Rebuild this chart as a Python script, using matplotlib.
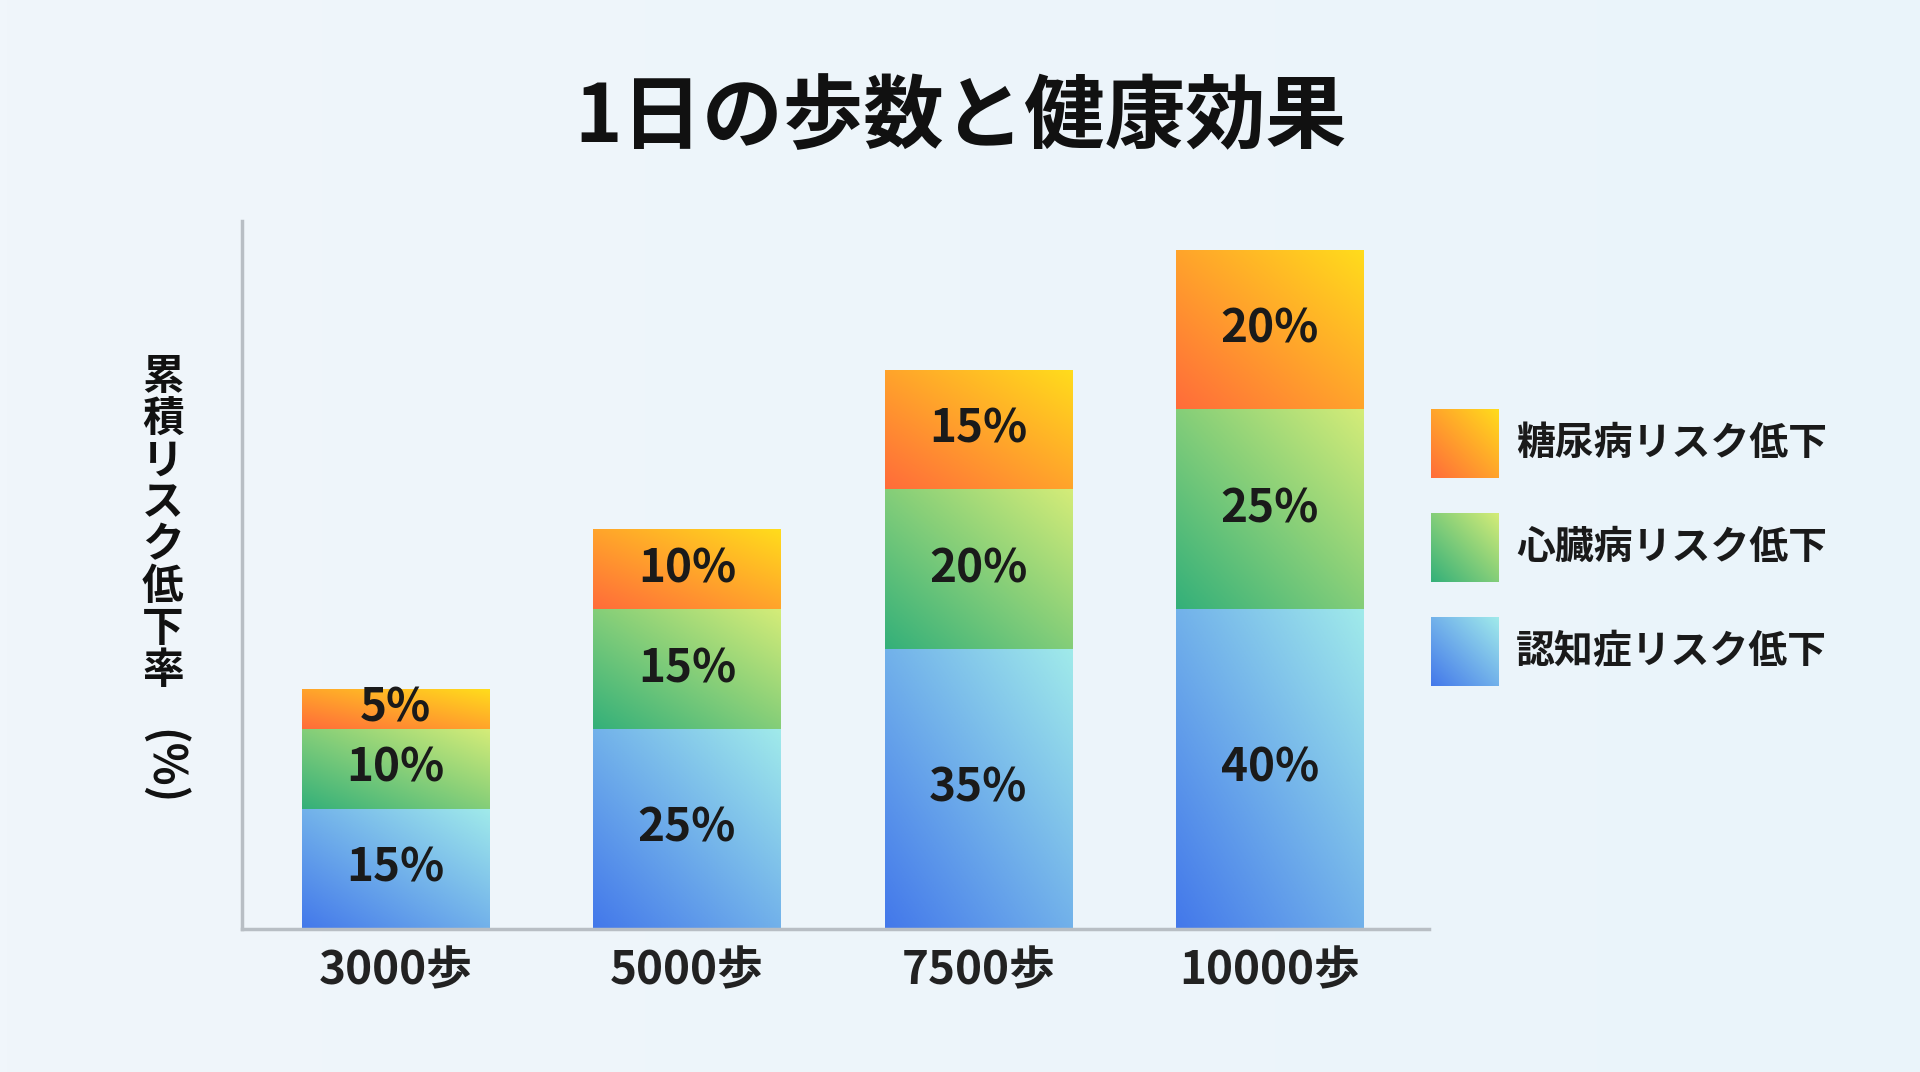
import numpy as np
import matplotlib
matplotlib.use("Agg")
import matplotlib.pyplot as plt
from matplotlib.colors import LinearSegmentedColormap

plt.rcParams['font.family'] = ['Noto Sans CJK JP', 'DejaVu Sans']

categories = ["3000歩", "5000歩", "7500歩", "10000歩"]
dementia = [15, 25, 35, 40]
heart = [10, 15, 20, 25]
diabetes = [5, 10, 15, 20]
series_names = ["認知症リスク低下", "心臓病リスク低下", "糖尿病リスク低下"]
series = [dementia, heart, diabetes]
cmaps = [LinearSegmentedColormap.from_list("b", ["#4378ea", "#a0eaea"]),
         LinearSegmentedColormap.from_list("g", ["#34b07a", "#d4ec78"]),
         LinearSegmentedColormap.from_list("o", ["#ff6c3a", "#ffdc1c"])]

fig = plt.figure(figsize=(19.2, 10.72), dpi=100)
bg = fig.add_axes([0, 0, 1, 1], zorder=-10)
bg.imshow(np.linspace(0, 1, 256)[None, :] * np.ones((10, 1)),
          cmap=LinearSegmentedColormap.from_list("bg", ["#f0f6fb", "#eaf4fa"]),
          aspect='auto', extent=[0, 1, 0, 1])
bg.axis('off')

W = 1568; H = 875
ax = fig.add_axes([198/W, 1-758/H, (1167-198)/W, (758-180)/H])
ax.patch.set_alpha(0)
for s in ['top', 'right']:
    ax.spines[s].set_visible(False)
for s in ['left', 'bottom']:
    ax.spines[s].set_color('#b8bec4'); ax.spines[s].set_linewidth(2.5)
ax.set_yticks([])
ax.set_xticks(range(len(categories)))
ax.set_xticklabels(categories, fontsize=33, fontweight='bold', color='#222222')
ax.tick_params(axis='x', length=0, pad=14)

u, v = np.meshgrid(np.linspace(0, 1, 100), np.linspace(0, 1, 100))
grad = (u + v) / 2
width = 0.643
bottoms = np.zeros(len(categories))
for vals, cm in zip(series, cmaps):
    for i, val in enumerate(vals):
        b = bottoms[i]
        rect = ax.bar(i, val, width, bottom=b, color='none', edgecolor='none')[0]
        im = ax.imshow(grad, cmap=cm, origin='lower', aspect='auto',
                       extent=[i-width/2, i+width/2, b, b+val], zorder=2)
        im.set_clip_path(rect)
        ax.text(i, b+val/2, f"{val}%", ha='center', va='center', fontsize=33,
                fontweight='bold', color='#1a1a1a', zorder=3)
    bottoms += np.array(vals)
ax.set_xlim(-0.525, 3.546)
ax.set_ylim(0, (758-180)/6.52)

fig.text(0.5, 1-97/H, "1日の歩数と健康効果", ha='center', va='center',
         fontsize=58, fontweight='bold', color='#111111')

fig.text(133/W, 1-428/H, "\n".join("累積リスク低下率"), ha='center', va='center',
         fontsize=30, fontweight='bold', color='#111111', linespacing=1.0)
fig.text(133/W, 1-626/H, "(%)", ha='center', va='center', rotation=270,
         fontsize=32, fontweight='bold', color='#111111')

leg_y = [362, 447, 532]
for name, cm, yc in zip(series_names[::-1], cmaps[::-1], leg_y):
    lax = fig.add_axes([1169/W, 1-(yc+28)/H, 55/W, 56/H])
    lax.imshow(grad, cmap=cm, origin='lower', aspect='auto')
    lax.axis('off')
    fig.text(1238/W, 1-yc/H, name, ha='left', va='center', fontsize=28,
             fontweight='bold', color='#1a1a1a')

fig.savefig("out.png", dpi=100)
